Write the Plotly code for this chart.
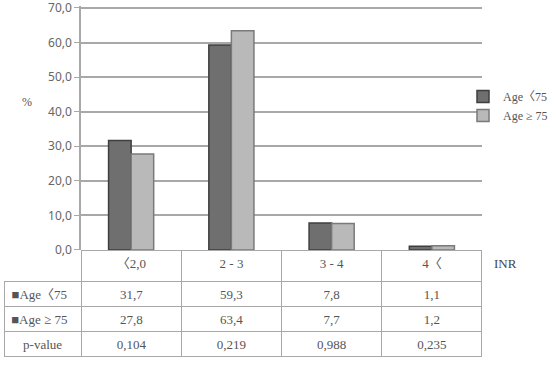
import plotly.graph_objects as go

categories = ["〈2,0", "2 - 3", "3 - 4", "4〈"]
series_names = ["Age〈75", "Age ≥ 75"]
young = [31.7, 59.3, 7.8, 1.1]
old = [27.8, 63.4, 7.7, 1.2]
pvalues = [0.104, 0.219, 0.988, 0.235]
y_ticks = [0, 10, 20, 30, 40, 50, 60, 70]

W, H = 556, 371
def px_x(x): return x / W
def px_y(y): return 1 - y / H

def fmt(v, d):
    return f"{v:.{d}f}".replace(".", ",")

serif = "Liberation Serif, Noto Sans CJK KR, serif"
txt_col = "#555555"
grid_col = "#a8a8a8"

fig = go.Figure()
fig.add_trace(go.Bar(
    x=categories, y=young, name=series_names[0],
    marker=dict(color="#6f6f6f", line=dict(color="#3f3f3f", width=1.5)),
))
fig.add_trace(go.Bar(
    x=categories, y=old, name=series_names[1],
    marker=dict(color="#b9b9b9", line=dict(color="#7a7a7a", width=1.5)),
))

fig.add_trace(go.Table(
    domain=dict(x=[px_x(4), px_x(482)], y=[px_y(357), px_y(250)]),
    columnwidth=[77, 100, 100, 100, 100],
    header=dict(
        values=[""] + categories,
        height=31,
        align="center",
        fill=dict(color=["rgba(0,0,0,0)"] + ["white"] * 4),
        line=dict(color=["rgba(0,0,0,0)"] + [grid_col] * 4, width=1),
        font=dict(family=serif, size=13, color=txt_col),
    ),
    cells=dict(
        values=[["■Age〈75\u00a0\u00a0", "■Age\u00a0≥\u00a075\u00a0\u00a0", "p-value"]] + [
            [fmt(young[i], 1), fmt(old[i], 1), fmt(pvalues[i], 3)] for i in range(len(categories))
        ],
        height=25,
        align="center",
        fill=dict(color="white"),
        line=dict(color=grid_col, width=1),
        font=dict(family=serif, size=13, color=txt_col),
    ),
))

# y: 0 at 250px, 70 at 8px -> extend range slightly so the 70 gridline is inside the plot
y_max = 70.6
y_top_px = 250 - 242 * y_max / 70

fig.update_layout(
    width=W, height=H,
    margin=dict(l=0, r=0, t=0, b=0, autoexpand=False),
    paper_bgcolor="white", plot_bgcolor="white",
    separators=",.",
    barmode="group", bargap=0.55, bargroupgap=0.0,
    showlegend=True,
    legend=dict(
        x=px_x(463), y=px_y(82), xanchor="left", yanchor="top",
        font=dict(family=serif, size=12, color=txt_col),
        itemwidth=30, bgcolor="rgba(0,0,0,0)",
    ),
    xaxis=dict(
        domain=[px_x(81), px_x(482)], showticklabels=False, showgrid=False,
        showline=False, zeroline=False, ticks="",
    ),
    yaxis=dict(
        domain=[px_y(250), px_y(y_top_px)], range=[0, y_max], tickvals=y_ticks, tickformat=".1f",
        showgrid=True, gridcolor=grid_col, gridwidth=1.5, zeroline=False,
        showline=True, linecolor=grid_col, linewidth=1.5,
        ticks="outside", ticklen=5, tickcolor=grid_col, ticklabeloverflow="allow",
        tickfont=dict(family="Noto Sans, sans-serif", size=12, color="#666666"),
    ),
    annotations=[
        dict(text="%", x=px_x(27), y=px_y(102), xref="paper", yref="paper",
             xanchor="center", yanchor="middle",
             showarrow=False, font=dict(family=serif, size=12, color=txt_col)),
        dict(text="INR", x=px_x(505), y=px_y(263), xref="paper", yref="paper",
             xanchor="center", yanchor="middle",
             showarrow=False, font=dict(family=serif, size=13, color="#444444")),
    ],
)

fig.write_html("out.html")
